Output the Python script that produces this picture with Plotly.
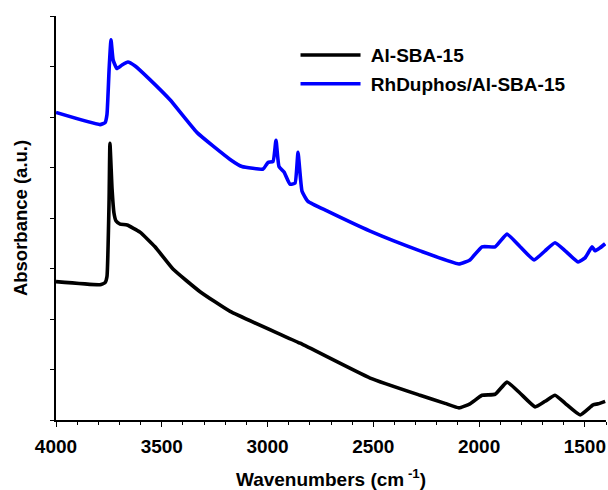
import plotly.graph_objects as go

# Al-SBA-15 (black)
wn_al = [4000, 3792, 3768, 3759, 3749, 3745, 3735, 3726, 3716, 3697, 3664, 3603, 3532,
         3447, 3319, 3177, 2846, 2515, 2279, 2161, 2095, 2043, 1986, 1924, 1868, 1806,
         1735, 1688, 1641, 1593, 1522, 1461, 1437, 1404]
abs_al = [2.74, 2.68, 2.72, 2.84, 4.37, 5.48, 4.57, 4.10, 3.94, 3.88, 3.86, 3.72, 3.43,
          2.99, 2.54, 2.15, 1.52, 0.83, 0.49, 0.33, 0.24, 0.32, 0.49, 0.51, 0.75, 0.53,
          0.26, 0.37, 0.49, 0.33, 0.10, 0.30, 0.32, 0.37]

# RhDuphos/Al-SBA-15 (blue)
wn_rh = [4000, 3792, 3768, 3759, 3749, 3740, 3730, 3712, 3688, 3660, 3626, 3556, 3461,
         3333, 3177, 3121, 3021, 2998, 2974, 2960, 2946, 2922, 2894, 2870, 2856, 2837,
         2809, 2719, 2515, 2279, 2095, 2043, 1986, 1924, 1868, 1806, 1740, 1688, 1641,
         1593, 1532, 1499, 1466, 1452, 1428, 1404]
abs_rh = [6.09, 5.85, 5.89, 6.05, 6.94, 7.53, 7.13, 6.96, 7.03, 7.09, 7.01, 6.74, 6.34,
          5.69, 5.16, 5.02, 4.97, 5.10, 5.12, 5.54, 5.02, 4.91, 4.67, 4.69, 5.30, 4.53,
          4.33, 4.14, 3.74, 3.35, 3.09, 3.17, 3.43, 3.43, 3.68, 3.43, 3.17, 3.35, 3.51,
          3.35, 3.13, 3.21, 3.43, 3.35, 3.41, 3.49]

x_ticks = [4000, 3500, 3000, 2500, 2000, 1500]

FONT = "Arial, Liberation Sans, sans-serif"

fig = go.Figure()
fig.add_trace(go.Scatter(x=wn_al, y=abs_al, mode="lines", name="\u00a0Al-SBA-15",
                         legendgroup="a",
                         line=dict(color="black", width=3.6, shape="spline", smoothing=0.4)))
fig.add_trace(go.Scatter(x=wn_rh, y=abs_rh, mode="lines", name="\u00a0RhDuphos/Al-SBA-15",
                         legendgroup="b",
                         line=dict(color="#0000ff", width=3.6, shape="spline", smoothing=0.4)))

fig.update_layout(
    width=608, height=490,
    margin=dict(l=56, r=2, t=16, b=68),
    paper_bgcolor="white", plot_bgcolor="white",
    font=dict(family=FONT, size=18, color="black", weight="bold"),
    showlegend=True,
    legend=dict(x=0.4355, y=0.95, xanchor="left", yanchor="top",
                bgcolor="rgba(0,0,0,0)", font=dict(size=19, weight="bold"),
                itemwidth=60, tracegroupgap=1),
    xaxis=dict(range=[4000, 1400], tickvals=x_ticks, ticktext=[str(v) for v in x_ticks],
               showline=True, linecolor="black", linewidth=1.5, mirror=False,
               ticks="outside", ticklen=5, tickwidth=1.3, tickcolor="black",
               minor=dict(dtick=100, ticks="outside", ticklen=3, tickwidth=1.2, tickcolor="black"),
               showgrid=False, zeroline=False, ticklabelstandoff=3,
               tickfont=dict(size=19, weight="bold"),
               title=dict(text="Wavenumbers (cm<sup> -1</sup>)", font=dict(size=19, weight="bold"),
                          standoff=18)),
    yaxis=dict(range=[0, 8], dtick=1, showticklabels=False,
               showline=True, linecolor="black", linewidth=1.5,
               ticks="outside", ticklen=4, tickwidth=1.3, tickcolor="black",
               showgrid=False, zeroline=False,
               title=dict(text="Absorbance (a.u.)", font=dict(size=18.5, weight="bold"),
                          standoff=18)),
)

fig.write_html("out.html")
